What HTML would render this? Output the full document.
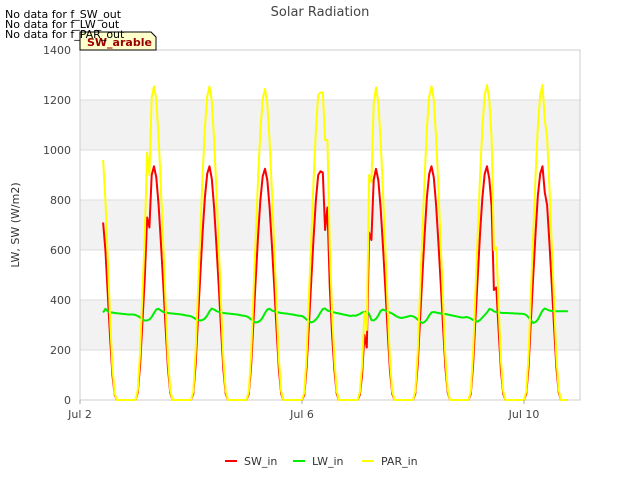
<!DOCTYPE html>
<html><head><meta charset="utf-8"><style>
body{margin:0;background:#fff;font-family:"Liberation Sans","DejaVu Sans",sans-serif}
svg text{font-family:"DejaVu Sans","Liberation Sans",sans-serif}
</style></head><body>
<svg id="chart" width="640" height="480" viewBox="0 0 640 480" xmlns="http://www.w3.org/2000/svg">
<rect width="640" height="480" fill="#fff"/>
<g id="bands"></g>
<g id="grid"></g>
<rect x="80" y="50" width="500" height="350" fill="none" stroke="#ccc"/>
<g id="series"></g>
<g id="yticks"></g>
<g id="xticks"></g>
<text x="320" y="16" text-anchor="middle" font-size="13" fill="#444">Solar Radiation</text>
<text transform="translate(19,225) rotate(-90)" text-anchor="middle" font-size="11" fill="#333">LW, SW (W/m2)</text>
<path d="M80,50 L80,32 L151,32 L156,37 L156,50 Z" fill="#ffffcc" stroke="#000" stroke-width="1"/>
<text x="87" y="46" font-size="11" font-weight="bold" fill="#990000">SW_arable</text>
<text x="5" y="18" font-size="11" fill="#000">No data for f_SW_out</text>
<text x="5" y="28" font-size="11" fill="#000">No data for f_LW_out</text>
<text x="5" y="38" font-size="11" fill="#000">No data for f_PAR_out</text>
<g>
<line x1="225" y1="461" x2="237" y2="461" stroke="#ff0000" stroke-width="2"/>
<text x="244" y="465" font-size="11" fill="#333">SW_in</text>
<line x1="293" y1="461" x2="305" y2="461" stroke="#00ee00" stroke-width="2"/>
<text x="312" y="465" font-size="11" fill="#333">LW_in</text>
<line x1="362" y1="461" x2="374" y2="461" stroke="#ffff00" stroke-width="2"/>
<text x="381" y="465" font-size="11" fill="#333">PAR_in</text>
</g>
</svg>
<script>
const startDay = 10/24;
const yTicks = [0,200,400,600,800,1000,1200,1400];
const xTickDays = [0,4,8];
const xTickLabels = ["Jul 2","Jul 6","Jul 10"];
const swIn = [
710,600,420,250,100,20,0,0,0,0,0,0,0,0,
0,30,140,310,490,730,690,900,935,890,780,630,460,290,130,30,0,0,0,0,0,0,0,0,
0,25,140,320,500,670,810,905,935,885,770,620,450,280,120,25,0,0,0,0,0,0,0,0,
0,25,135,310,490,660,800,895,925,880,770,620,450,280,120,25,0,0,0,0,0,0,0,0,
0,20,130,300,480,650,800,900,915,910,680,770,450,260,120,25,0,0,0,0,0,0,0,0,
0,20,100,260,210,670,640,880,925,880,770,620,450,280,120,25,0,0,0,0,0,0,0,0,
0,25,135,310,490,660,810,905,935,890,780,630,460,290,130,30,0,0,0,0,0,0,0,0,
0,25,140,320,500,670,810,905,935,885,775,440,450,280,120,25,0,0,0,0,0,0,0,0,
0,25,135,320,500,670,820,905,935,830,780,630,460,290,130,30,0,0,0,0
];
const parIn = [
960,800,560,330,130,25,0,0,0,0,0,0,0,0,
0,40,190,420,660,990,900,1210,1255,1200,1050,850,620,390,170,40,0,0,0,0,0,0,0,0,
0,35,190,430,670,900,1090,1215,1255,1195,1040,840,610,380,160,35,0,0,0,0,0,0,0,0,
0,35,180,420,660,890,1080,1205,1245,1185,1035,835,605,375,160,35,0,0,0,0,0,0,0,0,
0,30,175,410,650,880,1080,1220,1230,1230,1040,1040,610,350,160,35,0,0,0,0,0,0,0,0,
0,30,140,350,280,900,870,1185,1250,1190,1040,840,610,380,160,35,0,0,0,0,0,0,0,0,
0,35,180,420,660,890,1090,1215,1255,1200,1050,850,620,390,170,40,0,0,0,0,0,0,0,0,
0,35,190,430,670,900,1090,1220,1260,1200,1045,600,610,380,160,35,0,0,0,0,0,0,0,0,
0,35,180,430,670,900,1100,1220,1260,1120,1050,850,620,390,170,40,0,0,0,0
];
const lwIn = [
350,365,355,350,350,348,347,346,345,344,343,342,342,342,
340,336,330,322,318,318,322,332,348,362,365,358,352,350,348,347,346,345,344,343,342,340,338,337,
335,330,324,320,318,320,326,338,355,366,362,356,352,350,348,347,346,345,344,343,342,340,338,337,
335,330,322,314,310,312,318,330,348,362,365,358,355,352,350,348,347,346,345,343,342,340,338,337,
336,330,322,315,310,314,322,334,350,364,366,358,355,352,350,348,346,344,342,340,338,336,338,337,
340,344,350,352,354,345,320,318,325,338,356,362,358,352,350,346,340,334,330,328,330,332,335,337,
335,330,322,314,308,312,322,338,350,352,350,348,346,345,344,342,340,338,336,334,332,330,330,332,
330,326,320,315,314,320,330,340,350,364,362,355,352,350,349,348,348,348,347,347,346,346,345,345,
344,340,330,318,308,312,322,340,358,366,362,358,356,356,355,355,355,355,355,355
];
function xPos(day){return 80+day*55.5;}
function yPos(v){return 400-v*0.25;}
const NS="http://www.w3.org/2000/svg";
const bands=document.getElementById('bands'),grid=document.getElementById('grid');
for(let i=0;i<yTicks.length-1;i++){
  if(i%2===1){
    const r=document.createElementNS(NS,'rect');
    r.setAttribute('x',80);r.setAttribute('width',500);
    r.setAttribute('y',yPos(yTicks[i+1]));r.setAttribute('height',yPos(yTicks[i])-yPos(yTicks[i+1]));
    r.setAttribute('fill','#f2f2f2');
    
    
    bands.appendChild(r);
  }
}
const yt=document.getElementById('yticks');
yTicks.forEach(v=>{
  const l=document.createElementNS(NS,'line');
  l.setAttribute('x1',80);l.setAttribute('x2',580);l.setAttribute('y1',yPos(v));l.setAttribute('y2',yPos(v));
  l.setAttribute('stroke','#dcdcdc');
  
  
  grid.appendChild(l);
  const t=document.createElementNS(NS,'text');
  t.setAttribute('x',71);t.setAttribute('y',yPos(v)+4);t.setAttribute('text-anchor','end');
  t.setAttribute('font-size','11');t.setAttribute('fill','#444');t.textContent=v;
  
  
  yt.appendChild(t);
});
const xt=document.getElementById('xticks');
xTickDays.forEach((d,i)=>{
  const l=document.createElementNS(NS,'line');
  l.setAttribute('x1',xPos(d));l.setAttribute('x2',xPos(d));l.setAttribute('y1',400);l.setAttribute('y2',404);
  l.setAttribute('stroke','#aaa');
  
  
  xt.appendChild(l);
  const t=document.createElementNS(NS,'text');
  t.setAttribute('x',xPos(d));t.setAttribute('y',418);t.setAttribute('text-anchor','middle');
  t.setAttribute('font-size','11');t.setAttribute('fill','#444');t.textContent=xTickLabels[i];
  
  
  xt.appendChild(t);
});
const sg=document.getElementById('series');
function line(vals,color,name){
  const pts=vals.map((v,i)=>xPos(startDay+i/24).toFixed(1)+','+yPos(v).toFixed(1)).join(' ');
  const p=document.createElementNS(NS,'polyline');
  p.setAttribute('points',pts);p.setAttribute('fill','none');p.setAttribute('stroke',color);
  p.setAttribute('stroke-width','2');p.setAttribute('stroke-linejoin','round');
  
  
  sg.appendChild(p);
}
line(swIn,'#ff0000','sw-in-line');
line(lwIn,'#00ee00','lw-in-line');
line(parIn,'#ffff00','par-in-line');
</script>
</body></html>
